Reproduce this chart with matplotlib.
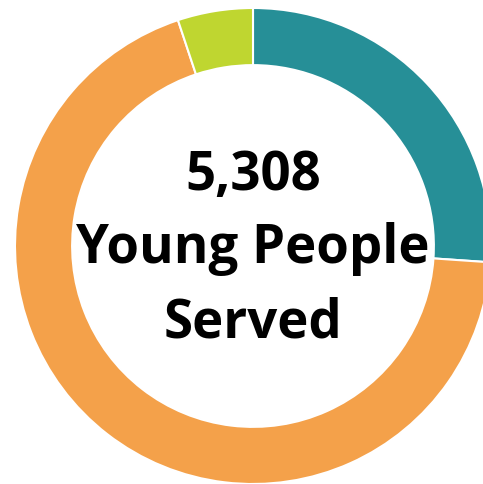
import matplotlib
matplotlib.use("Agg")
import matplotlib.pyplot as plt

categories = ["Teal group", "Orange group", "Green group"]
values = [1385, 3652, 271]
colors = ["#268F97", "#F4A14A", "#BFD630"]
center_lines = ["5,308", "Young People", "Served"]

W, H = 483, 484
fig = plt.figure(figsize=(W / 100, H / 100), dpi=100)
R = 238
cx, cy = 253, 246
ax = fig.add_axes([(cx - R) / W, (H - cy - R) / H, 2 * R / W, 2 * R / H])
ax.pie(values, colors=colors, startangle=90, counterclock=False, radius=1,
       wedgeprops=dict(width=0.24, edgecolor="white", linewidth=1.5))
ax.set_xlim(-1, 1)
ax.set_ylim(-1, 1)
ax.set_aspect("equal")
ax.axis("off")

baselines_px = [190, 263, 337]
for txt, bpx in zip(center_lines, baselines_px):
    ax.text(0, (cy - bpx) / R, txt, ha="center", va="baseline",
            fontsize=38, fontweight="bold", family="Open Sans", color="black")

fig.savefig("out.png", dpi=100)
